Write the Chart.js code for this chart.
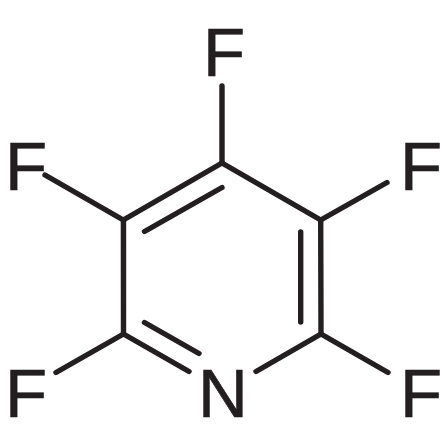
<!DOCTYPE html>
<html>
<head>
<meta charset="utf-8">
<style>
html,body{margin:0;padding:0;background:#fff;}
canvas{display:block;}
</style>
<script src="https://cdn.jsdelivr.net/npm/chart.js@4"></script>
</head>
<body>
<canvas id="c" width="440" height="440"></canvas>
<script>
const bondX1 = [222, 123.3, 222, 320.7, 321, 123.5, 123.4, 144.5, 300.7, 144.5, 123.3, 320.7, 123.5, 321];
const bondY1 = [86, 220, 163, 220, 334, 334, 220, 231.5, 232, 322.5, 220, 220, 334, 334];
const bondX2 = [222, 222, 320.7, 321, 256, 189, 123.5, 222, 300.7, 199, 45, 387, 56, 388];
const bondY2 = [163, 163, 220, 334, 371.5, 371.5, 334, 187.5, 322, 353.5, 175, 182.5, 372.5, 372.5];

const atomLabels = ['F', 'F', 'F', 'F', 'F', 'N'];
const atomX = [224, 26, 421, 26, 421, 223];
const atomY = [76, 190, 190, 417, 417, 417];

const INK = '#231f20';

const datasets = bondX1.map((x, i) => ({
  data: [{x, y: bondY1[i]}, {x: bondX2[i], y: bondY2[i]}],
  showLine: true,
  borderColor: INK,
  borderWidth: 5.4,
  borderCapStyle: 'round',
  pointRadius: 0,
  pointHoverRadius: 0,
  clip: false
}));

const atomText = {
  id: 'atomText',
  afterDatasetsDraw(chart) {
    const {ctx, scales: {x, y}} = chart;
    ctx.save();
    ctx.fillStyle = INK;
    ctx.strokeStyle = INK;
    ctx.lineWidth = 0.6;
    ctx.font = '69px "Liberation Sans", Arial, sans-serif';
    ctx.textAlign = 'center';
    ctx.textBaseline = 'alphabetic';
    atomLabels.forEach((t, i) => {
      const px = x.getPixelForValue(atomX[i]);
      const py = y.getPixelForValue(atomY[i]);
      ctx.fillText(t, px, py);
      ctx.strokeText(t, px, py);
    });
    ctx.restore();
  }
};

new Chart(document.getElementById('c'), {
  type: 'scatter',
  data: {datasets},
  options: {
    responsive: false,
    animation: false,
    layout: {padding: 0},
    plugins: {legend: {display: false}, tooltip: {enabled: false}, title: {display: false}},
    scales: {
      x: {type: 'linear', min: 0, max: 440, display: false},
      y: {type: 'linear', min: 0, max: 440, reverse: true, display: false}
    }
  },
  plugins: [atomText]
});
</script>
</body>
</html>
